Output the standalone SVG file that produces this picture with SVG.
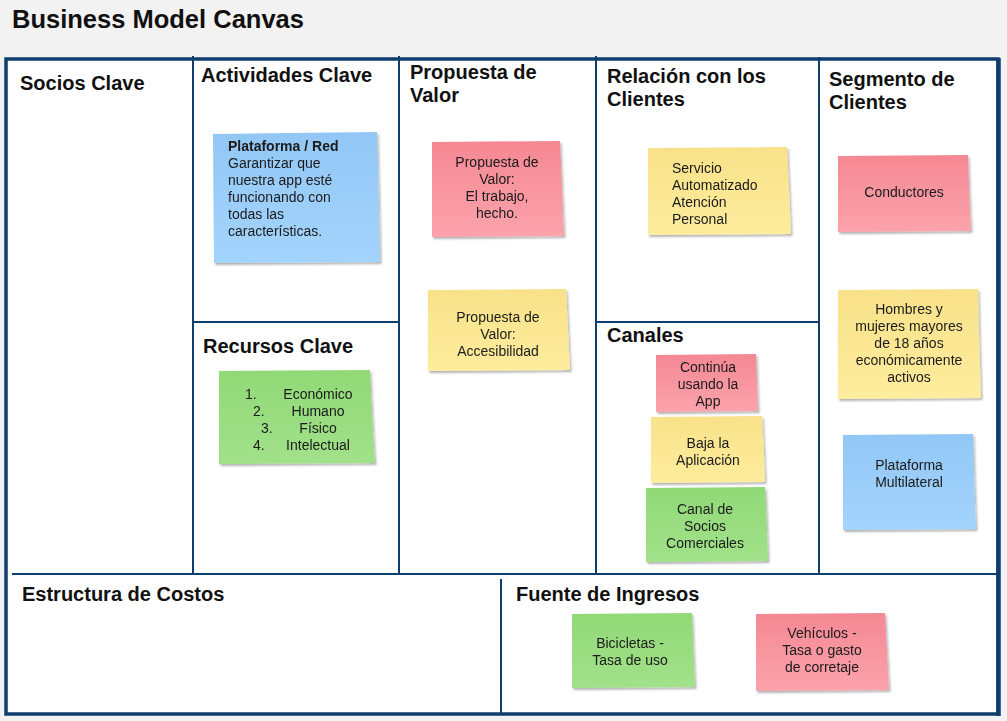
<svg xmlns="http://www.w3.org/2000/svg" width="1007" height="721" viewBox="0 0 1007 721">
  <style>
    .title { font-family: "Liberation Sans", Arial, sans-serif; font-size: 25.5px; font-weight: bold; fill: #111; }
    .head { font-family: "Liberation Sans", Arial, sans-serif; font-size: 20px; font-weight: bold; fill: #111; }
    .note { font-family: "Liberation Sans", Arial, sans-serif; font-size: 14px; fill: #1a1a1a; }
    .c { text-anchor: middle; }
    .b { font-weight: bold; }
    .grid { stroke: #0f3d6e; stroke-width: 2; fill: none; }
    .frame { stroke: #0f3d6e; stroke-width: 3.5; fill: #ffffff; }
    .sticky { filter: url(#shadow); }
  </style>
  <defs>
    <filter id="shadow" x="-10%" y="-10%" width="125%" height="130%">
      <feDropShadow dx="1.5" dy="2" stdDeviation="1.2" flood-color="#000" flood-opacity="0.3"/>
    </filter>
    <linearGradient id="gRed" x1="0" y1="0" x2="0" y2="1">
      <stop offset="0" stop-color="#f48893"/>
      <stop offset="1" stop-color="#fca3ac"/>
    </linearGradient>
    <linearGradient id="gYel" x1="0" y1="0" x2="0" y2="1">
      <stop offset="0" stop-color="#f8e189"/>
      <stop offset="1" stop-color="#feed9e"/>
    </linearGradient>
    <linearGradient id="gGrn" x1="0" y1="0" x2="0" y2="1">
      <stop offset="0" stop-color="#91d977"/>
      <stop offset="1" stop-color="#a1e18a"/>
    </linearGradient>
    <linearGradient id="gBlu" x1="0" y1="0" x2="0" y2="1">
      <stop offset="0" stop-color="#92c7f5"/>
      <stop offset="1" stop-color="#a3d4fc"/>
    </linearGradient>
  </defs>

  <rect x="0" y="0" width="1007" height="721" fill="#f2f2f2"/>
  <text class="title" x="12" y="28">Business Model Canvas</text>

  <g id="canvas-frame">
    <rect class="frame" x="6" y="59" width="992" height="655"/>
    <line x1="998.5" y1="58" x2="998.5" y2="716" stroke="#0f3d6e" stroke-width="4.5"/>
  </g>

  <g id="grid-lines">
    <line class="grid" x1="193" y1="56" x2="193" y2="574"/>
    <line class="grid" x1="399" y1="56" x2="399" y2="574"/>
    <line class="grid" x1="596" y1="56" x2="596" y2="574"/>
    <line class="grid" x1="819" y1="57" x2="819" y2="574"/>
    <line class="grid" x1="193" y1="322" x2="399" y2="322"/>
    <line class="grid" x1="596" y1="322" x2="819" y2="322"/>
    <line class="grid" x1="12" y1="574" x2="1000" y2="574"/>
    <line class="grid" x1="501" y1="579" x2="501" y2="714"/>
  </g>

  <g id="connectors"></g>

  <g id="socios-clave">
    <text class="head" x="20" y="90">Socios Clave</text>
  </g>

  <g id="actividades-clave">
    <text class="head" x="201" y="82">Actividades Clave</text>
    <g id="note-plataforma-red" class="sticky">
      <path d="M213,134 L377,132 Q379,200 380,262 L214,263 Z" fill="url(#gBlu)"/>
      <text class="note" x="228" y="151"><tspan class="b">Plataforma / Red</tspan><tspan x="228" dy="17">Garantizar que</tspan><tspan x="228" dy="17">nuestra app esté</tspan><tspan x="228" dy="17">funcionando con</tspan><tspan x="228" dy="17">todas las</tspan><tspan x="228" dy="17">características.</tspan></text>
    </g>
  </g>

  <g id="recursos-clave">
    <text class="head" x="203" y="353">Recursos Clave</text>
    <g id="note-recursos" class="sticky">
      <path d="M219,371 L370,370 Q372,420 375,463 L219,464 Z" fill="url(#gGrn)"/>
      <text class="note" x="245" y="399">1.</text>
      <text class="note c" x="318" y="399">Económico</text>
      <text class="note" x="253" y="416">2.</text>
      <text class="note c" x="318" y="416">Humano</text>
      <text class="note" x="261" y="433">3.</text>
      <text class="note c" x="318" y="433">Físico</text>
      <text class="note" x="253" y="450">4.</text>
      <text class="note c" x="318" y="450">Intelectual</text>
    </g>
  </g>

  <g id="propuesta-de-valor">
    <text class="head" x="410" y="79">Propuesta de</text>
    <text class="head" x="410" y="102">Valor</text>
    <g id="note-trabajo-hecho" class="sticky">
      <path d="M432,142 L560,141 Q562,190 564,236 L432,237 Z" fill="url(#gRed)"/>
      <text class="note c" x="497" y="167">Propuesta de<tspan x="497" dy="17">Valor:</tspan><tspan x="497" dy="17">El trabajo,</tspan><tspan x="497" dy="17">hecho.</tspan></text>
    </g>
    <g id="note-accesibilidad" class="sticky">
      <path d="M428,290 L566,289 Q568,330 570,370 L428,371 Z" fill="url(#gYel)"/>
      <text class="note c" x="498" y="322">Propuesta de<tspan x="498" dy="17">Valor:</tspan><tspan x="498" dy="17">Accesibilidad</tspan></text>
    </g>
  </g>

  <g id="relacion-clientes">
    <text class="head" x="607" y="83">Relación con los</text>
    <text class="head" x="607" y="106">Clientes</text>
    <g id="note-servicio" class="sticky">
      <path d="M648,148 L787,147 Q789,190 791,234 L648,235 Z" fill="url(#gYel)"/>
      <text class="note" x="672" y="173">Servicio<tspan x="672" dy="17">Automatizado</tspan><tspan x="672" dy="17">Atención</tspan><tspan x="672" dy="17">Personal</tspan></text>
    </g>
  </g>

  <g id="canales">
    <text class="head" x="607" y="342">Canales</text>
    <g id="note-continua" class="sticky">
      <path d="M656,355 L756,354 Q757,383 758,411 L656,412 Z" fill="url(#gRed)"/>
      <text class="note c" x="708" y="372">Continúa<tspan x="708" dy="17">usando la</tspan><tspan x="708" dy="17">App</tspan></text>
    </g>
    <g id="note-baja" class="sticky">
      <path d="M651,417 L762,416 Q764,450 765,482 L651,483 Z" fill="url(#gYel)"/>
      <text class="note c" x="708" y="448">Baja la<tspan x="708" dy="17">Aplicación</tspan></text>
    </g>
    <g id="note-socios-comerciales" class="sticky">
      <path d="M646,488 L765,487 Q767,525 768,561 L646,562 Z" fill="url(#gGrn)"/>
      <text class="note c" x="705" y="514">Canal de<tspan x="705" dy="17">Socios</tspan><tspan x="705" dy="17">Comerciales</tspan></text>
    </g>
  </g>

  <g id="segmento-clientes">
    <text class="head" x="829" y="86">Segmento de</text>
    <text class="head" x="829" y="109">Clientes</text>
    <g id="note-conductores" class="sticky">
      <path d="M838,156 L968,155 Q969,195 971,231 L838,232 Z" fill="url(#gRed)"/>
      <text class="note c" x="904" y="197">Conductores</text>
    </g>
    <g id="note-hombres-mujeres" class="sticky">
      <path d="M838,290 L978,289 Q979,345 981,398 L838,399 Z" fill="url(#gYel)"/>
      <text class="note c" x="909" y="314">Hombres y<tspan x="909" dy="17">mujeres mayores</tspan><tspan x="909" dy="17">de 18 años</tspan><tspan x="909" dy="17">económicamente</tspan><tspan x="909" dy="17">activos</tspan></text>
    </g>
    <g id="note-multilateral" class="sticky">
      <path d="M843,435 L973,434 Q974,482 976,529 L843,530 Z" fill="url(#gBlu)"/>
      <text class="note c" x="909" y="470">Plataforma<tspan x="909" dy="17">Multilateral</tspan></text>
    </g>
  </g>

  <g id="estructura-costos">
    <text class="head" x="22" y="601">Estructura de Costos</text>
  </g>

  <g id="fuente-ingresos">
    <text class="head" x="516" y="601">Fuente de Ingresos</text>
    <g id="note-bicicletas" class="sticky">
      <path d="M572,614 L692,613 Q693,650 695,687 L572,688 Z" fill="url(#gGrn)"/>
      <text class="note c" x="630" y="648">Bicicletas -<tspan x="630" dy="17">Tasa de uso</tspan></text>
    </g>
    <g id="note-vehiculos" class="sticky">
      <path d="M756,614 L885,613 Q887,652 889,690 L756,691 Z" fill="url(#gRed)"/>
      <text class="note c" x="822" y="638">Vehículos -<tspan x="822" dy="17">Tasa o gasto</tspan><tspan x="822" dy="17">de corretaje</tspan></text>
    </g>
  </g>
</svg>
